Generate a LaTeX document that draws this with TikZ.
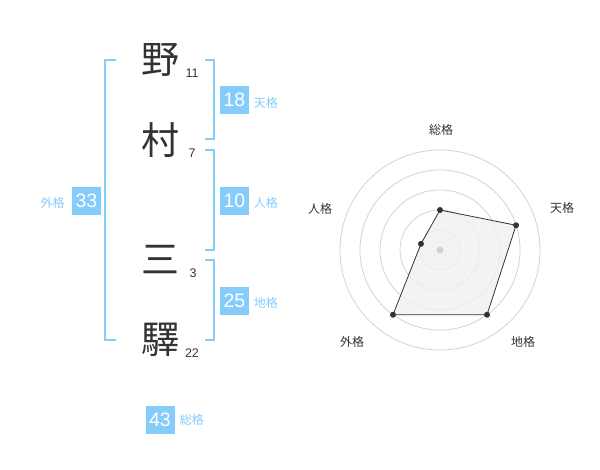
\documentclass[tikz,border=0pt]{standalone}
\usepackage{fontspec}
\setmainfont{Liberation Sans}
\newfontfamily\jpfont{Noto Sans CJK JP}
\usepackage{tikz}
\usetikzlibrary{positioning}
\definecolor{kakublue}{RGB}{133,204,250}
\definecolor{inkgray}{RGB}{51,51,51}
\definecolor{ringgray}{RGB}{210,210,210}
\definecolor{areagray}{RGB}{240,240,240}

\begin{document}
\begin{tikzpicture}[x=1pt, y=-1pt,
kanji/.style={font=\jpfont\fontsize{38}{38}\selectfont, text=inkgray, inner sep=0pt},
strokes/.style={font=\fontsize{12.5}{12.5}\selectfont, text=inkgray, inner sep=0pt},
score/.style={fill=kakublue, text=white, font=\fontsize{19.5}{19.5}\selectfont, minimum width=29pt, minimum height=28pt, inner sep=0pt},
kaku/.style={font=\jpfont\fontsize{12}{12}\selectfont, text=kakublue, inner sep=0pt},
bracket/.style={draw=kakublue, line width=2pt},
axislabel/.style={font=\jpfont\fontsize{12}{12}\selectfont, text=inkgray, inner sep=0pt},
]
\useasboundingbox (0,0) rectangle (600,470);

\node[kanji] (no) at (160,60) {野};
\node[strokes] (no-n) at (192,73) {11};
\node[kanji] (mura) at (160,140) {村};
\node[strokes] (mura-n) at (192,153) {7};
\node[kanji] (san) at (160,260) {三};
\node[strokes] (san-n) at (193,273) {3};
\node[kanji] (eki) at (160,340) {驛};
\node[strokes] (eki-n) at (192,353) {22};

\draw[bracket] (116,60) -- (105,60) -- (105,340) -- (116,340);
\draw[bracket] (205,60) -- (214,60) -- (214,139) -- (205,139);
\draw[bracket] (205,150) -- (214,150) -- (214,250) -- (205,250);
\draw[bracket] (205,260) -- (214,260) -- (214,340) -- (205,340);

\node[score] (gaikaku) at (86.5,201) {33};
\node[kaku, left=7pt of gaikaku, yshift=-2pt] {外格};
\node[score] (tenkaku) at (234.5,100) {18};
\node[kaku, right=4.5pt of tenkaku, yshift=-3pt] {天格};
\node[score] (jinkaku) at (234.5,201) {10};
\node[kaku, right=4.5pt of jinkaku, yshift=-2pt] {人格};
\node[score] (chikaku) at (234.5,301) {25};
\node[kaku, right=4.5pt of chikaku, yshift=-2pt] {地格};
\node[score] (soukaku) at (160,420) {43};
\node[kaku, right=5pt of soukaku] {総格};

\begin{scope}[shift={(440,250)}, yscale=-1]
\foreach \r in {20,40,...,100}
  \draw[ringgray, line width=0.8pt] (0,0) circle[radius=\r pt];
\foreach \name/\ang/\val in {sou/90/40, ten/18/80, chi/-54/80, gai/234/80, jin/162/20}
  \coordinate (p-\name) at (\ang:\val);
\filldraw[fill=areagray, fill opacity=0.8, draw=inkgray, line width=0.8pt]
  (p-sou) -- (p-ten) -- (p-chi) -- (p-gai) -- (p-jin) -- cycle;
\fill[ringgray] (0,0) circle[radius=3.5pt];
\foreach \name in {sou,ten,chi,gai,jin}
  \fill[inkgray] (p-\name) circle[radius=3pt];
\node[axislabel] (a-sou) at (1,120) {総格};
\node[axislabel] (a-ten) at (122,42) {天格};
\node[axislabel] (a-jin) at (-120,41) {人格};
\node[axislabel] (a-gai) at (-88,-92) {外格};
\node[axislabel] (a-chi) at (83,-92) {地格};
\end{scope}
\end{tikzpicture}
\end{document}
